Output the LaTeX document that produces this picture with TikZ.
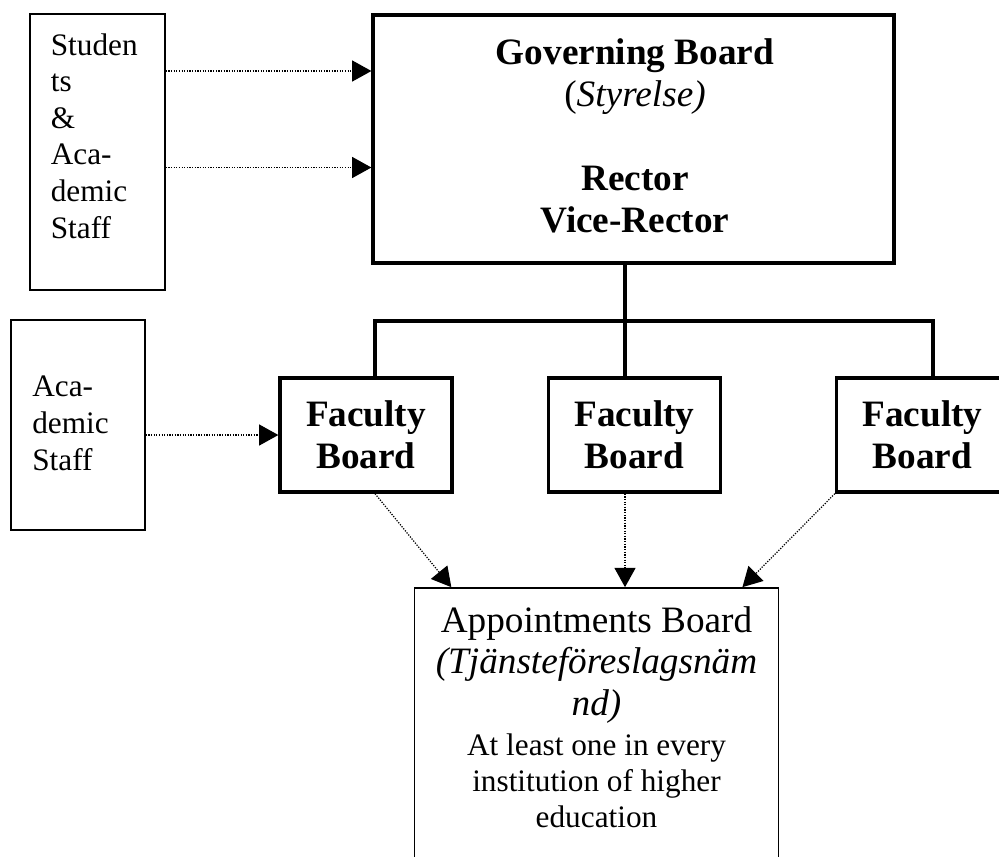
\documentclass[tikz,border=0pt]{standalone}
\usepackage{fontspec}
\setmainfont{Liberation Serif}
\usetikzlibrary{arrows.meta,calc}

\begin{document}
\begin{tikzpicture}[x=0.02cm,y=-0.02cm,>={Triangle[length=11pt,width=12pt]},
    thinbox/.style={draw,line width=0.8pt,inner sep=0pt},
    thickbox/.style={draw,line width=1.9pt,inner sep=0pt},
    tree/.style={line width=1.8pt},
    flow/.style={->,line width=0.7pt,dash pattern=on 0.7pt off 0.8pt},
    bigfont/.style={font=\fontsize{21.2}{23.8}\selectfont},
    smallfont/.style={font=\fontsize{17.8}{20.8}\selectfont}]
    \useasboundingbox (0,0) rectangle (999,856);
    % boxes
    \node[thinbox,minimum width=2.7cm,minimum height=5.52cm] (students) at (97.5,152) {};
    \node[thickbox,minimum width=10.42cm,minimum height=4.96cm] (gov) at (633.5,139) {};
    \node[thinbox,minimum width=2.68cm,minimum height=4.2cm] (acad) at (78,425) {};
    \node[draw,line width=1pt,inner sep=0pt,minimum width=7.28cm,minimum height=5.84cm] (app) at (596.5,734) {};
    \foreach \i/\x in {1/366,2/634.5,3/922.5} {
      \node[thickbox,bigfont,align=center,minimum width=3.44cm,minimum height=2.28cm] (fb\i) at (\x,435) {\textbf{Faculty}\\\textbf{Board}};
    }
    % texts (base = last line)
    \node[smallfont,align=left,anchor=base west,inner sep=0pt] (studentstxt) at (50.5,238) {Studen\\ts\\\&\\Aca-\\demic\\Staff};
    \node[smallfont,align=left,anchor=base west,inner sep=0pt] (acadtxt) at (32,470) {Aca-\\demic\\Staff};
    \node[bigfont,align=center,anchor=base,inner sep=0pt] (govtxt) at (635,232) {\textbf{Governing Board}\\(\textit{Styrelse)}\\[24pt]\textbf{Rector}\\\textbf{Vice-Rector}};
    \node[font=\fontsize{21.2}{23.5}\selectfont,align=center,anchor=base,inner sep=0pt] (apptitle) at (596.5,715) {Appointments Board\\\textit{(Tjänsteföreslagsnäm}\\\textit{nd)}};
    \node[font=\fontsize{17.8}{20.4}\selectfont,align=center,anchor=base,inner sep=0pt] (appnote) at (596.5,827) {At least one in every\\institution of higher\\education};
    % tree lines
    \coordinate (bus) at (625,321);
    \coordinate (busL) at (375,321);
    \coordinate (busR) at (933,321);
    \draw[tree] (gov.south -| bus) -- (bus |- fb2.north);
    \draw[tree] (busL |- fb1.north) -- (busL) -- (busR) -- (busR |- fb3.north);
    % dotted arrows
    \coordinate (s1) at (0,71);
    \coordinate (s2) at (0,167.5);
    \coordinate (a1) at (0,435);
    \draw[flow] (students.east |- s1) -- (gov.west |- s1);
    \draw[flow] (students.east |- s2) -- (gov.west |- s2);
    \draw[flow] (acad.east |- a1) -- (fb1.west |- a1);
    \draw[flow] (fb1.south -| busL) -- ($(app.north west)!0.103!(app.north east)$);
    \draw[flow] (fb2.south -| bus) -- (app.north -| bus);
    \draw[flow] (fb3.south west) -- ($(app.north west)!0.899!(app.north east)$);
\end{tikzpicture}
\end{document}
